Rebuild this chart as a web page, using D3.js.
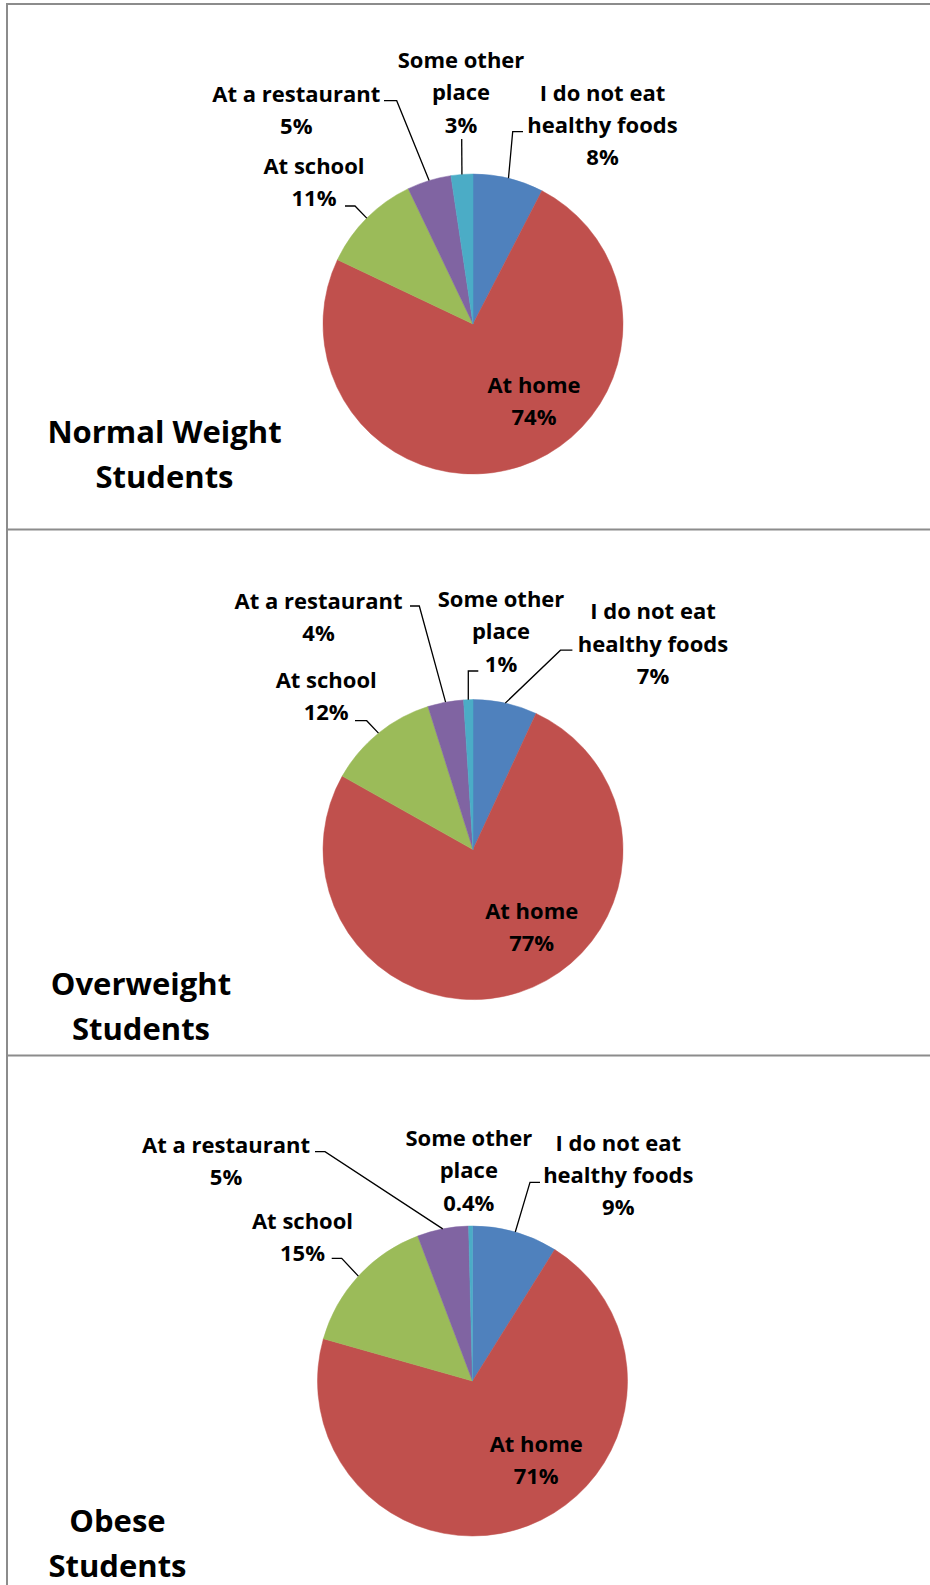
<!DOCTYPE html>
<html>
<head>
<meta charset="utf-8">
<script src="https://cdnjs.cloudflare.com/ajax/libs/d3/7.8.5/d3.min.js"></script>
<style>
    body { margin: 0; background: #fff; }
    svg text { font-family: "Open Sans", sans-serif; font-weight: bold; fill: #000; }
</style>
</head>
<body>
<svg id="chart" width="930" height="1585"></svg>
<script>
// categories, in pie order (clockwise from 12 o'clock)
const categories = ["I do not eat healthy foods", "At home", "At school", "At a restaurant", "Some other place"];
const categoryLines = [["I do not eat", "healthy foods"], ["At home"], ["At school"], ["At a restaurant"], ["Some other", "place"]];
const sliceColors = ["#4F81BD", "#C0504D", "#9BBB59", "#8064A2", "#4BACC6"];

// groups
const groupTitles = [["Normal Weight", "Students"], ["Overweight", "Students"], ["Obese", "Students"]];

// series values (share of pie)
const normalValues = [7.6, 74.45, 10.85, 4.75, 2.35];
const overweightValues = [6.9, 76.25, 12.0, 3.85, 1.0];
const obeseValues = [8.9, 70.5, 14.85, 5.35, 0.4];

// data labels as printed
const normalLabels = ["8%", "74%", "11%", "5%", "3%"];
const overweightLabels = ["7%", "77%", "12%", "4%", "1%"];
const obeseLabels = ["9%", "71%", "15%", "5%", "0.4%"];

const seriesValues = [normalValues, overweightValues, obeseValues];
const seriesLabels = [normalLabels, overweightLabels, obeseLabels];

// layout of each panel: pie centre, radius, title and label positions
// label: x = text centre, y = first baseline, tick = [x0, y0, x1, y1] (leader starts here)
const panelLayout = [
    {
        cx: 473, cy: 324, r: 150, title: [164.5, 442.5],
        labels: [
            {x: 602.5, y: 100.5, tick: [523, 131.7, 512.7, 131.7]},
            {x: 534, y: 392.5, tick: null},
            {x: 314, y: 174, tick: [345, 206, 355, 206]},
            {x: 296.3, y: 101.7, tick: [384, 100.7, 396.7, 100.7]},
            {x: 461, y: 67.7, tick: [461.7, 139, 461.7, 139]}
        ]
    },
    {
        cx: 473, cy: 849.6, r: 150, title: [141, 995.2],
        labels: [
            {x: 653, y: 619.2, tick: [572.4, 650.2, 560.5, 650.2]},
            {x: 531.7, y: 918.8, tick: null},
            {x: 326.2, y: 688, tick: [355, 720.7, 366.7, 720.7]},
            {x: 318.5, y: 608.8, tick: [410, 606, 419.3, 606]},
            {x: 501, y: 606.8, tick: [478.3, 671, 468.3, 671]}
        ]
    },
    {
        cx: 472.5, cy: 1381, r: 155, title: [117.5, 1531.8],
        labels: [
            {x: 618.3, y: 1150.5, tick: [540, 1182.3, 530, 1182.3]},
            {x: 536.2, y: 1451.9, tick: null},
            {x: 302.5, y: 1228.7, tick: [331.7, 1258.3, 341.7, 1258.3]},
            {x: 226, y: 1153, tick: [315, 1151.7, 325, 1151.7]},
            {x: 468.8, y: 1146, tick: null}
        ]
    }
];

const svg = d3.select("#chart");

// table-like frame around the panels
const myFrame = (function () {

    function draw() {
        const g = svg.append("g").attr("stroke", "#8c8c8c").attr("stroke-width", 2);
        g.append("line").attr("x1", 7).attr("x2", 7).attr("y1", 3).attr("y2", 1585);
        [4, 529.5, 1055.5].forEach(function (y) {
            g.append("line").attr("x1", 6).attr("x2", 930).attr("y1", y).attr("y2", y);
        });
    }

    // Exposed public
    return {
        draw: draw
    }
})();

// one pie with labels and leader lines
const myPie = (function () {

    const color = d3.scaleOrdinal().domain(categories).range(sliceColors);
    const pie = d3.pie().sort(null).value(function (d) { return d.value; });

    function draw(values, labels, layout, title) {
        const data = categories.map(function (c, i) { return {category: c, value: values[i]}; });
        const arcs = pie(data);
        const arc = d3.arc().innerRadius(0).outerRadius(layout.r);
        const edge = d3.arc().innerRadius(layout.r).outerRadius(layout.r);

        const g = svg.append("g");

        g.append("g")
            .attr("transform", "translate(" + layout.cx + "," + layout.cy + ")")
            .selectAll("path")
            .data(arcs)
            .enter().append("path")
            .attr("d", arc)
            .attr("fill", function (d) { return color(d.data.category); })
            .attr("stroke", function (d) { return color(d.data.category); })
            .attr("stroke-width", 0.5);

        // leader lines
        arcs.forEach(function (d, i) {
            const t = layout.labels[i].tick;
            if (!t) return;
            const p = edge.centroid(d);
            g.append("polyline")
                .attr("points", [[t[0], t[1]], [t[2], t[3]], [layout.cx + p[0], layout.cy + p[1]]].join(" "))
                .attr("fill", "none")
                .attr("stroke", "#000")
                .attr("stroke-width", 1.3);
        });

        // data labels
        arcs.forEach(function (d, i) {
            const lay = layout.labels[i];
            const lines = categoryLines[i].concat([labels[i]]);
            const text = g.append("text")
                .attr("text-anchor", "middle")
                .style("font-size", "22px");
            lines.forEach(function (line, k) {
                text.append("tspan")
                    .attr("x", lay.x)
                    .attr("y", lay.y + k * 32.4)
                    .text(line);
            });
        });

        // panel title
        const tt = g.append("text")
            .attr("text-anchor", "middle")
            .style("font-size", "31px");
        title.forEach(function (line, k) {
            tt.append("tspan")
                .attr("x", layout.title[0])
                .attr("y", layout.title[1] + k * 45)
                .text(line);
        });
    }

    // Exposed public
    return {
        draw: draw
    }
})();

myFrame.draw();
seriesValues.forEach(function (values, i) {
    myPie.draw(values, seriesLabels[i], panelLayout[i], groupTitles[i]);
});
</script>
</body>
</html>
